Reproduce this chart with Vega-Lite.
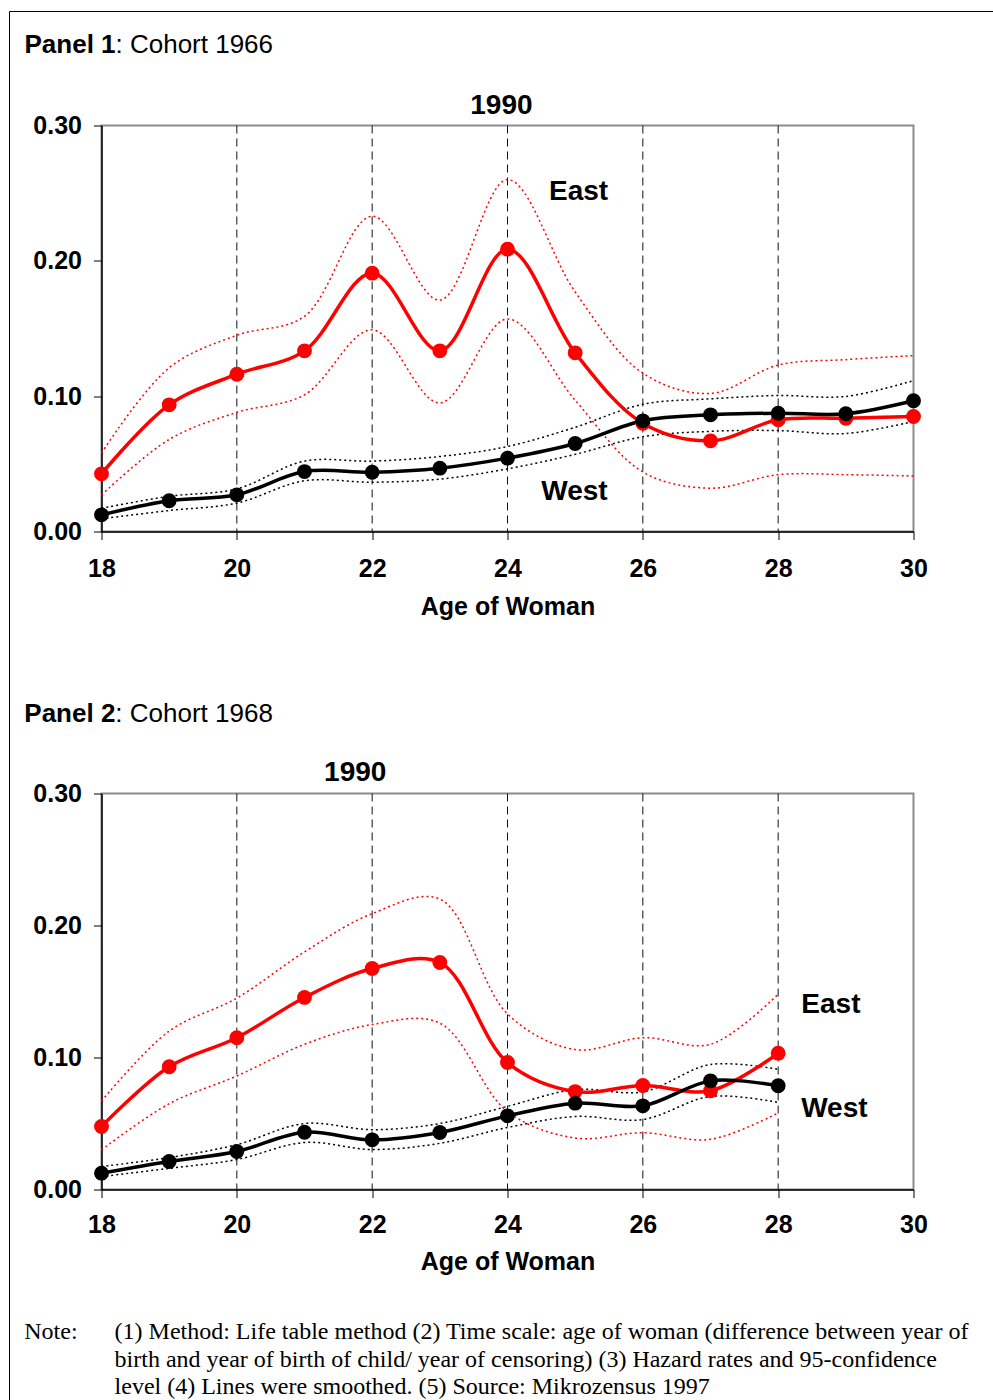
{
  "$schema": "https://vega.github.io/schema/vega-lite/v6.json",
  "padding": {"left": 7.5, "top": 9.5, "right": 0, "bottom": 0},
  "background": "white",
  "bounds": "flush",
  "spacing": 262,
  "config": {
    "view": {"stroke": "#8c8c8c", "strokeWidth": 2},
    "axis": {
      "labelFont": "Liberation Sans", "labelFontWeight": "bold", "labelFontSize": 25, "labelColor": "#000",
      "titleFont": "Liberation Sans", "titleFontWeight": "bold", "titleFontSize": 25, "titleColor": "#000",
      "domainColor": "#000", "domainWidth": 1.5, "tickColor": "#000", "tickSize": 8, "tickWidth": 1, "grid": false
    }
  },
  "datasets": {
    "grid": [{"age": 20}, {"age": 22}, {"age": 24}, {"age": 26}, {"age": 28}],
    "p1": [
      {"age": 18, "region": "East", "est": 0.0426, "lo": 0.027, "hi": 0.058},
      {"age": 19, "region": "East", "est": 0.0936, "lo": 0.068, "hi": 0.121},
      {"age": 20, "region": "East", "est": 0.1162, "lo": 0.088, "hi": 0.145},
      {"age": 21, "region": "East", "est": 0.1335, "lo": 0.101, "hi": 0.159},
      {"age": 22, "region": "East", "est": 0.1909, "lo": 0.149, "hi": 0.233},
      {"age": 23, "region": "East", "est": 0.1335, "lo": 0.095, "hi": 0.171},
      {"age": 24, "region": "East", "est": 0.2086, "lo": 0.157, "hi": 0.260},
      {"age": 25, "region": "East", "est": 0.132, "lo": 0.097, "hi": 0.177},
      {"age": 26, "region": "East", "est": 0.080, "lo": 0.044, "hi": 0.117},
      {"age": 27, "region": "East", "est": 0.067, "lo": 0.032, "hi": 0.102},
      {"age": 28, "region": "East", "est": 0.0825, "lo": 0.042, "hi": 0.123},
      {"age": 29, "region": "East", "est": 0.0837, "lo": 0.042, "hi": 0.127},
      {"age": 30, "region": "East", "est": 0.085, "lo": 0.041, "hi": 0.130},
      {"age": 18, "region": "West", "est": 0.0123, "lo": 0.0094, "hi": 0.0172},
      {"age": 19, "region": "West", "est": 0.0227, "lo": 0.0155, "hi": 0.026},
      {"age": 20, "region": "West", "est": 0.0271, "lo": 0.021, "hi": 0.0315},
      {"age": 21, "region": "West", "est": 0.0443, "lo": 0.0375, "hi": 0.052},
      {"age": 22, "region": "West", "est": 0.0438, "lo": 0.0364, "hi": 0.052},
      {"age": 23, "region": "West", "est": 0.0468, "lo": 0.0387, "hi": 0.0554},
      {"age": 24, "region": "West", "est": 0.0542, "lo": 0.0463, "hi": 0.0628},
      {"age": 25, "region": "West", "est": 0.065, "lo": 0.057, "hi": 0.077},
      {"age": 26, "region": "West", "est": 0.0818, "lo": 0.070, "hi": 0.094},
      {"age": 27, "region": "West", "est": 0.0862, "lo": 0.074, "hi": 0.098},
      {"age": 28, "region": "West", "est": 0.0874, "lo": 0.0746, "hi": 0.1005},
      {"age": 29, "region": "West", "est": 0.087, "lo": 0.0724, "hi": 0.0998},
      {"age": 30, "region": "West", "est": 0.0966, "lo": 0.0813, "hi": 0.1115}
    ],
    "p2": [
      {"age": 18, "region": "East", "est": 0.0477, "lo": 0.030, "hi": 0.067},
      {"age": 19, "region": "East", "est": 0.093, "lo": 0.065, "hi": 0.120},
      {"age": 20, "region": "East", "est": 0.115, "lo": 0.086, "hi": 0.145},
      {"age": 21, "region": "East", "est": 0.1455, "lo": 0.110, "hi": 0.180},
      {"age": 22, "region": "East", "est": 0.1674, "lo": 0.125, "hi": 0.209},
      {"age": 23, "region": "East", "est": 0.172, "lo": 0.126, "hi": 0.220},
      {"age": 24, "region": "East", "est": 0.0962, "lo": 0.059, "hi": 0.133},
      {"age": 25, "region": "East", "est": 0.0742, "lo": 0.039, "hi": 0.106},
      {"age": 26, "region": "East", "est": 0.0788, "lo": 0.043, "hi": 0.115},
      {"age": 27, "region": "East", "est": 0.0748, "lo": 0.038, "hi": 0.110},
      {"age": 28, "region": "East", "est": 0.1033, "lo": 0.058, "hi": 0.148},
      {"age": 18, "region": "West", "est": 0.0124, "lo": 0.0098, "hi": 0.0174},
      {"age": 19, "region": "West", "est": 0.0212, "lo": 0.016, "hi": 0.0242},
      {"age": 20, "region": "West", "est": 0.0288, "lo": 0.0227, "hi": 0.034},
      {"age": 21, "region": "West", "est": 0.0434, "lo": 0.0356, "hi": 0.050},
      {"age": 22, "region": "West", "est": 0.0376, "lo": 0.0303, "hi": 0.0453},
      {"age": 23, "region": "West", "est": 0.0432, "lo": 0.035, "hi": 0.050},
      {"age": 24, "region": "West", "est": 0.0558, "lo": 0.047, "hi": 0.063},
      {"age": 25, "region": "West", "est": 0.0654, "lo": 0.0553, "hi": 0.0757},
      {"age": 26, "region": "West", "est": 0.0634, "lo": 0.053, "hi": 0.074},
      {"age": 27, "region": "West", "est": 0.0823, "lo": 0.0705, "hi": 0.0947},
      {"age": 28, "region": "West", "est": 0.0786, "lo": 0.066, "hi": 0.091}
    ],
    "labels1": [
      {"age": 23.91, "value": 0.3086, "text": "1990"},
      {"age": 25.05, "value": 0.2451, "text": "East"},
      {"age": 24.99, "value": 0.0234, "text": "West"}
    ],
    "labels2": [
      {"age": 21.75, "value": 0.3096, "text": "1990"},
      {"age": 28.78, "value": 0.1336, "text": "East"},
      {"age": 28.83, "value": 0.0553, "text": "West"}
    ],
    "head1": [{"age": 16.862, "value": 0.3535, "bold": "Panel 1", "rest": ": Cohort 1966"}],
    "head2": [{"age": 16.859, "value": 0.354, "bold": "Panel 2", "rest": ": Cohort 1968"}],
    "frame": [
      {"age": 16.6404, "age2": 16.6404, "value": -0.66, "value2": 0.38424},
      {"age": 16.6404, "age2": 31.4, "value": 0.38424, "value2": 0.38424}
    ],
    "notes": [
      {"age": 16.859, "value": -0.1136, "text": "Note:"},
      {"age": 18.193, "value": -0.1136, "text": "(1) Method: Life table method (2) Time scale: age of woman (difference between year of"},
      {"age": 18.193, "value": -0.1348, "text": "birth and year of birth of child/ year of censoring)  (3) Hazard rates and 95-confidence"},
      {"age": 18.193, "value": -0.1553, "text": "level (4) Lines were smoothed.  (5) Source: Mikrozensus 1997"}
    ]
  },
  "vconcat": [
    {
      "width": 812,
      "height": 406,
      "encoding": {
        "x": {"field": "age", "type": "quantitative", "scale": {"domain": [18, 30], "nice": false, "zero": false},
          "axis": {"values": [18, 20, 22, 24, 26, 28, 30], "format": "d", "title": "Age of Woman", "labelPadding": 17, "titlePadding": 13, "labelFlush": false}}
      },
      "layer": [
        {
          "data": {"name": "grid"},
          "mark": {"type": "rule", "stroke": "#111", "strokeWidth": 1, "strokeDash": [8, 5]},
          "encoding": {}
        },
        {
          "data": {"name": "p1"},
          "mark": {"type": "line", "interpolate": "catmull-rom", "strokeWidth": 1.5, "strokeDash": [2, 3]},
          "encoding": {
            "y": {"field": "lo", "type": "quantitative", "scale": {"domain": [0, 0.3], "nice": false},
              "axis": {"values": [0, 0.1, 0.2, 0.3], "format": ".2f", "title": null, "labelPadding": 12}},
            "color": {"field": "region", "type": "nominal", "scale": {"domain": ["East", "West"], "range": ["#ff0000", "#000000"]}, "legend": null}
          }
        },
        {
          "data": {"name": "p1"},
          "mark": {"type": "line", "interpolate": "catmull-rom", "strokeWidth": 1.5, "strokeDash": [2, 3]},
          "encoding": {
            "y": {"field": "hi", "type": "quantitative", "scale": {"domain": [0, 0.3], "nice": false},
              "axis": {"values": [0, 0.1, 0.2, 0.3], "format": ".2f", "title": null, "labelPadding": 12}},
            "color": {"field": "region", "type": "nominal", "scale": {"domain": ["East", "West"], "range": ["#ff0000", "#000000"]}, "legend": null}
          }
        },
        {
          "data": {"name": "p1"},
          "mark": {"type": "line", "interpolate": "catmull-rom", "strokeWidth": 3.5},
          "encoding": {
            "y": {"field": "est", "type": "quantitative", "scale": {"domain": [0, 0.3], "nice": false},
              "axis": {"values": [0, 0.1, 0.2, 0.3], "format": ".2f", "title": null, "labelPadding": 12}},
            "color": {"field": "region", "type": "nominal", "scale": {"domain": ["East", "West"], "range": ["#ff0000", "#000000"]}, "legend": null}
          }
        },
        {
          "data": {"name": "p1"},
          "mark": {"type": "circle", "size": 220, "opacity": 1},
          "encoding": {
            "y": {"field": "est", "type": "quantitative", "scale": {"domain": [0, 0.3], "nice": false},
              "axis": {"values": [0, 0.1, 0.2, 0.3], "format": ".2f", "title": null, "labelPadding": 12}},
            "color": {"field": "region", "type": "nominal", "scale": {"domain": ["East", "West"], "range": ["#ff0000", "#000000"]}, "legend": null}
          }
        },
        {
          "data": {"name": "labels1"},
          "mark": {"type": "text", "font": "Liberation Sans", "fontWeight": "bold", "fontSize": 28, "align": "center", "baseline": "alphabetic", "color": "#000"},
          "encoding": {
            "y": {"field": "value", "type": "quantitative", "scale": {"domain": [0, 0.3], "nice": false},
              "axis": {"values": [0, 0.1, 0.2, 0.3], "format": ".2f", "title": null, "labelPadding": 12}},
            "text": {"field": "text"}
          }
        },
        {
          "data": {"name": "head1"},
          "mark": {"type": "text", "font": "Liberation Sans", "fontWeight": "bold", "fontSize": 26, "align": "left", "baseline": "alphabetic", "color": "#000"},
          "encoding": {
            "y": {"field": "value", "type": "quantitative", "scale": {"domain": [0, 0.3], "nice": false},
              "axis": {"values": [0, 0.1, 0.2, 0.3], "format": ".2f", "title": null, "labelPadding": 12}},
            "text": {"field": "bold"}
          }
        },
        {
          "data": {"name": "head1"},
          "mark": {"type": "text", "font": "Liberation Sans", "fontWeight": "normal", "fontSize": 26, "align": "left", "baseline": "alphabetic", "color": "#000", "dx": 91},
          "encoding": {
            "y": {"field": "value", "type": "quantitative", "scale": {"domain": [0, 0.3], "nice": false},
              "axis": {"values": [0, 0.1, 0.2, 0.3], "format": ".2f", "title": null, "labelPadding": 12}},
            "text": {"field": "rest"}
          }
        },
        {
          "data": {"name": "frame"},
          "mark": {"type": "rule", "stroke": "#000", "strokeWidth": 1},
          "encoding": {
            "x2": {"field": "age2"},
            "y": {"field": "value", "type": "quantitative", "scale": {"domain": [0, 0.3], "nice": false},
              "axis": {"values": [0, 0.1, 0.2, 0.3], "format": ".2f", "title": null, "labelPadding": 12}},
            "y2": {"field": "value2"}
          }
        }
      ]
    },
    {
      "width": 812,
      "height": 396,
      "encoding": {
        "x": {"field": "age", "type": "quantitative", "scale": {"domain": [18, 30], "nice": false, "zero": false},
          "axis": {"values": [18, 20, 22, 24, 26, 28, 30], "format": "d", "title": "Age of Woman", "labelPadding": 15, "titlePadding": 12, "labelFlush": false}}
      },
      "layer": [
        {
          "data": {"name": "grid"},
          "mark": {"type": "rule", "stroke": "#111", "strokeWidth": 1, "strokeDash": [8, 5]},
          "encoding": {}
        },
        {
          "data": {"name": "p2"},
          "mark": {"type": "line", "interpolate": "catmull-rom", "strokeWidth": 1.5, "strokeDash": [2, 3]},
          "encoding": {
            "y": {"field": "lo", "type": "quantitative", "scale": {"domain": [0, 0.3], "nice": false},
              "axis": {"values": [0, 0.1, 0.2, 0.3], "format": ".2f", "title": null, "labelPadding": 12}},
            "color": {"field": "region", "type": "nominal", "scale": {"domain": ["East", "West"], "range": ["#ff0000", "#000000"]}, "legend": null}
          }
        },
        {
          "data": {"name": "p2"},
          "mark": {"type": "line", "interpolate": "catmull-rom", "strokeWidth": 1.5, "strokeDash": [2, 3]},
          "encoding": {
            "y": {"field": "hi", "type": "quantitative", "scale": {"domain": [0, 0.3], "nice": false},
              "axis": {"values": [0, 0.1, 0.2, 0.3], "format": ".2f", "title": null, "labelPadding": 12}},
            "color": {"field": "region", "type": "nominal", "scale": {"domain": ["East", "West"], "range": ["#ff0000", "#000000"]}, "legend": null}
          }
        },
        {
          "data": {"name": "p2"},
          "mark": {"type": "line", "interpolate": "catmull-rom", "strokeWidth": 3.5},
          "encoding": {
            "y": {"field": "est", "type": "quantitative", "scale": {"domain": [0, 0.3], "nice": false},
              "axis": {"values": [0, 0.1, 0.2, 0.3], "format": ".2f", "title": null, "labelPadding": 12}},
            "color": {"field": "region", "type": "nominal", "scale": {"domain": ["East", "West"], "range": ["#ff0000", "#000000"]}, "legend": null}
          }
        },
        {
          "data": {"name": "p2"},
          "mark": {"type": "circle", "size": 220, "opacity": 1},
          "encoding": {
            "y": {"field": "est", "type": "quantitative", "scale": {"domain": [0, 0.3], "nice": false},
              "axis": {"values": [0, 0.1, 0.2, 0.3], "format": ".2f", "title": null, "labelPadding": 12}},
            "color": {"field": "region", "type": "nominal", "scale": {"domain": ["East", "West"], "range": ["#ff0000", "#000000"]}, "legend": null}
          }
        },
        {
          "data": {"name": "labels2"},
          "mark": {"type": "text", "font": "Liberation Sans", "fontWeight": "bold", "fontSize": 28, "align": "center", "baseline": "alphabetic", "color": "#000"},
          "encoding": {
            "y": {"field": "value", "type": "quantitative", "scale": {"domain": [0, 0.3], "nice": false},
              "axis": {"values": [0, 0.1, 0.2, 0.3], "format": ".2f", "title": null, "labelPadding": 12}},
            "text": {"field": "text"}
          }
        },
        {
          "data": {"name": "head2"},
          "mark": {"type": "text", "font": "Liberation Sans", "fontWeight": "bold", "fontSize": 26, "align": "left", "baseline": "alphabetic", "color": "#000"},
          "encoding": {
            "y": {"field": "value", "type": "quantitative", "scale": {"domain": [0, 0.3], "nice": false},
              "axis": {"values": [0, 0.1, 0.2, 0.3], "format": ".2f", "title": null, "labelPadding": 12}},
            "text": {"field": "bold"}
          }
        },
        {
          "data": {"name": "head2"},
          "mark": {"type": "text", "font": "Liberation Sans", "fontWeight": "normal", "fontSize": 26, "align": "left", "baseline": "alphabetic", "color": "#000", "dx": 91},
          "encoding": {
            "y": {"field": "value", "type": "quantitative", "scale": {"domain": [0, 0.3], "nice": false},
              "axis": {"values": [0, 0.1, 0.2, 0.3], "format": ".2f", "title": null, "labelPadding": 12}},
            "text": {"field": "rest"}
          }
        },
        {
          "data": {"name": "notes"},
          "mark": {"type": "text", "font": "Liberation Serif", "fontWeight": "normal", "fontSize": 24, "align": "left", "baseline": "alphabetic", "color": "#000"},
          "encoding": {
            "y": {"field": "value", "type": "quantitative", "scale": {"domain": [0, 0.3], "nice": false},
              "axis": {"values": [0, 0.1, 0.2, 0.3], "format": ".2f", "title": null, "labelPadding": 12}},
            "text": {"field": "text"}
          }
        }
      ]
    }
  ]
}
